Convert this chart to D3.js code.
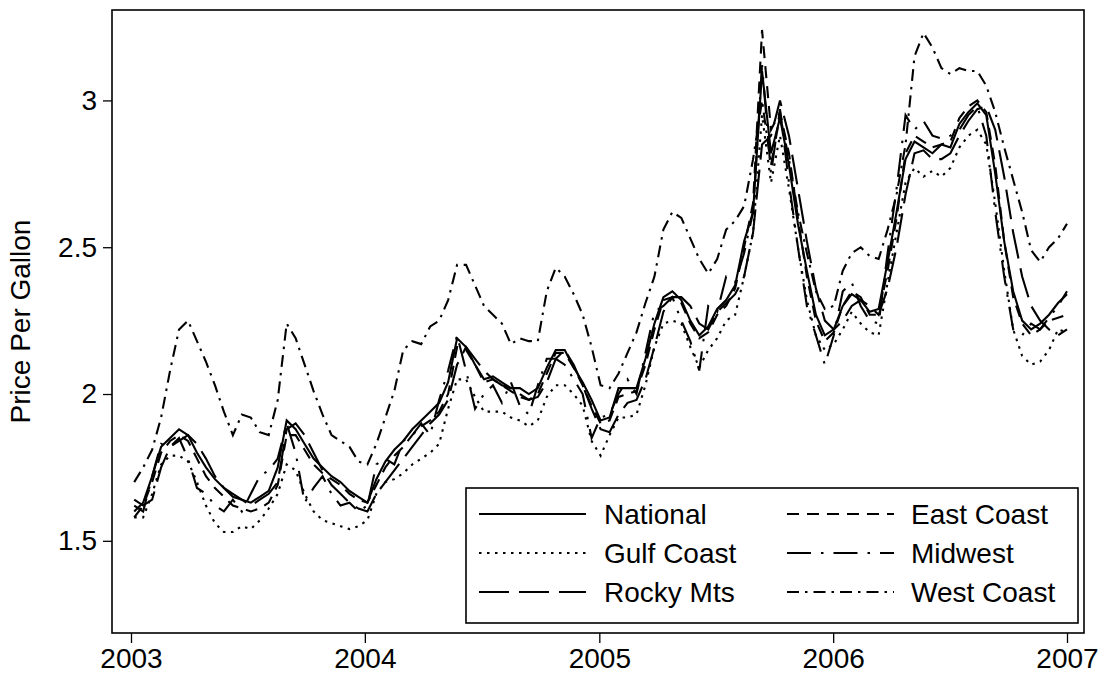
<!DOCTYPE html>
<html><head><meta charset="utf-8">
<script src="https://cdn.jsdelivr.net/npm/d3@7"></script>
<style>
body{margin:0;background:#fff}
text{font-family:"Liberation Sans",Arial,Helvetica,sans-serif;fill:#000}
</style>
</head><body>
<svg id="chart" width="1107" height="676"></svg>
<script>
const startDate = "2003-01-06";
const weekIndex = [0,2,4,6,8,10,12,14,16,18,20,22,24,26,28,30,32,34,36,38,40,42,44,46,48,50,
52,54,56,58,60,62,64,66,68,70,72,74,76,78,80,82,84,86,88,90,92,94,96,98,100,102,
104,106,108,110,112,114,116,118,120,122,124,126,128,130,132,134,136,138,140,142,144,146,148,150,152,154,
156,158,160,162,164,166,168,170,172,174,176,178,180,182,184,186,188,190,192,194,196,198,200,202,204,206,208];

const national = [1.60,1.63,1.72,1.82,1.85,1.88,1.86,1.80,1.75,1.71,1.68,1.65,1.64,1.63,1.65,1.67,1.75,1.91,1.88,1.83,1.78,1.75,1.72,1.70,1.67,1.65,
1.63,1.71,1.77,1.81,1.84,1.88,1.91,1.94,1.97,2.04,2.19,2.16,2.10,2.05,2.06,2.04,2.02,2.02,2.00,2.02,2.09,2.15,2.15,2.09,2.04,1.98,
1.91,1.92,2.02,2.02,2.02,2.12,2.24,2.33,2.35,2.32,2.25,2.20,2.23,2.29,2.32,2.37,2.52,2.62,3.10,2.82,2.94,2.78,2.58,2.42,2.27,2.20,
2.22,2.30,2.34,2.32,2.28,2.29,2.45,2.62,2.80,2.86,2.84,2.82,2.85,2.84,2.92,2.96,2.99,2.95,2.75,2.52,2.35,2.25,2.22,2.24,2.27,2.31,2.34];

const eastCoast = [1.58,1.62,1.70,1.80,1.84,1.86,1.84,1.78,1.72,1.68,1.65,1.62,1.61,1.60,1.61,1.63,1.69,1.86,1.86,1.81,1.76,1.73,1.71,1.69,1.66,1.64,
1.63,1.69,1.75,1.79,1.82,1.86,1.89,1.91,1.94,2.00,2.16,2.15,2.10,2.04,2.05,2.03,2.01,1.99,1.98,2.00,2.07,2.14,2.14,2.09,2.03,1.96,
1.90,1.91,1.99,2.00,2.01,2.10,2.22,2.32,2.33,2.31,2.24,2.19,2.21,2.27,2.30,2.36,2.50,2.65,3.24,2.90,2.96,2.82,2.60,2.40,2.25,2.18,
2.21,2.30,2.35,2.33,2.27,2.27,2.42,2.60,2.82,2.88,2.86,2.84,2.85,2.86,2.94,2.98,3.00,2.96,2.78,2.52,2.33,2.24,2.20,2.22,2.25,2.26,2.27];

const gulfCoast = [1.58,1.58,1.66,1.76,1.79,1.79,1.77,1.70,1.62,1.56,1.53,1.53,1.55,1.54,1.57,1.61,1.66,1.76,1.74,1.66,1.60,1.57,1.56,1.55,1.54,1.55,
1.57,1.66,1.70,1.71,1.73,1.76,1.78,1.80,1.83,1.95,2.05,2.05,1.99,1.94,1.94,1.94,1.92,1.91,1.89,1.91,1.99,2.03,2.03,2.00,1.96,1.84,
1.79,1.86,1.92,1.92,1.93,2.03,2.16,2.24,2.25,2.24,2.16,2.09,2.15,2.19,2.25,2.27,2.40,2.55,2.95,2.72,2.88,2.70,2.50,2.32,2.20,2.15,
2.17,2.22,2.28,2.24,2.21,2.20,2.38,2.55,2.72,2.77,2.74,2.76,2.74,2.77,2.84,2.88,2.90,2.85,2.65,2.42,2.22,2.13,2.10,2.11,2.15,2.22,2.21];

const midwest = [1.62,1.60,1.72,1.83,1.82,1.85,1.78,1.68,1.66,1.62,1.60,1.64,1.60,1.66,1.72,1.74,1.78,1.90,1.80,1.63,1.68,1.72,1.66,1.62,1.63,1.60,
1.62,1.76,1.78,1.76,1.84,1.86,1.90,1.86,1.98,2.08,2.20,2.08,1.95,2.00,2.03,1.97,2.04,1.96,1.93,2.03,2.12,2.12,2.10,2.05,2.00,1.85,
1.92,1.93,2.00,2.05,2.00,2.14,2.28,2.30,2.33,2.25,2.18,2.08,2.30,2.28,2.40,2.38,2.48,2.62,3.12,2.75,2.97,2.72,2.50,2.30,2.20,2.10,
2.20,2.35,2.38,2.30,2.25,2.24,2.48,2.70,2.95,2.90,2.93,2.88,2.87,2.88,2.90,2.95,2.98,2.88,2.62,2.40,2.22,2.20,2.24,2.22,2.26,2.30,2.35];

const rockyMts = [1.64,1.62,1.64,1.75,1.82,1.84,1.86,1.83,1.78,1.72,1.68,1.66,1.64,1.62,1.64,1.66,1.70,1.88,1.90,1.86,1.80,1.74,1.69,1.66,1.63,1.61,
1.60,1.66,1.70,1.74,1.78,1.82,1.86,1.90,1.93,1.98,2.10,2.16,2.12,2.08,2.05,2.03,2.02,2.00,1.98,1.99,2.04,2.12,2.15,2.10,2.03,1.95,
1.88,1.87,1.93,1.97,1.98,2.05,2.16,2.28,2.33,2.33,2.30,2.24,2.22,2.28,2.31,2.34,2.40,2.55,2.85,2.88,3.00,2.88,2.70,2.52,2.36,2.25,
2.22,2.25,2.30,2.32,2.30,2.27,2.36,2.50,2.68,2.82,2.83,2.80,2.80,2.82,2.88,2.93,2.97,2.98,2.90,2.74,2.55,2.40,2.30,2.25,2.22,2.20,2.22];

const westCoast = [1.70,1.75,1.81,1.92,2.08,2.22,2.25,2.18,2.11,2.03,1.94,1.86,1.93,1.92,1.87,1.86,1.98,2.24,2.19,2.10,2.01,1.93,1.86,1.84,1.82,1.77,
1.76,1.83,1.92,2.01,2.15,2.18,2.17,2.23,2.25,2.32,2.44,2.44,2.37,2.30,2.27,2.24,2.17,2.19,2.18,2.18,2.35,2.43,2.40,2.34,2.27,2.16,
2.03,2.02,2.07,2.14,2.21,2.31,2.40,2.56,2.62,2.60,2.53,2.46,2.41,2.46,2.56,2.59,2.64,2.80,3.00,2.78,2.95,2.80,2.62,2.48,2.35,2.29,
2.30,2.42,2.48,2.50,2.47,2.46,2.56,2.68,2.85,3.15,3.23,3.18,3.11,3.09,3.11,3.10,3.10,3.05,2.96,2.84,2.73,2.62,2.49,2.45,2.50,2.53,2.58];

const seriesNames = ["National","East Coast","Gulf Coast","Midwest","Rocky Mts","West Coast"];
const seriesValues = [national, eastCoast, gulfCoast, midwest, rockyMts, westCoast];
const yTickValues = [1.5, 2, 2.5, 3];
const xTickYears = [2003, 2004, 2005, 2006, 2007];
const yTitle = "Price Per Gallon";
const legendOrder = ["National","East Coast","Gulf Coast","Midwest","Rocky Mts","West Coast"];

// ---- styles ----
const dashes = {
  "National": null,
  "East Coast": "12,8",
  "Gulf Coast": "2.5,5.5",
  "Midwest": "24,10,2.5,10",
  "Rocky Mts": "30,10",
  "West Coast": "12,6,2.5,6"
};

const svg = d3.select("#chart");
const frame = {left:112, right:1084, top:10, bottom:633};

const x = d3.scaleUtc()
  .domain([new Date(Date.UTC(2003,0,1)), new Date(Date.UTC(2007,0,1))])
  .range([131, 1067]);
const y = d3.scaleLinear().domain([1.186, 3.308]).range([frame.bottom, frame.top]);

const t0 = new Date(startDate + "T00:00:00Z");
const dates = weekIndex.map(w => new Date(t0.getTime() + w * 7 * 86400000));

// frame
svg.append("rect")
  .attr("x", frame.left).attr("y", frame.top)
  .attr("width", frame.right - frame.left).attr("height", frame.bottom - frame.top)
  .attr("fill", "none").attr("stroke", "#000").attr("stroke-width", 1.6);

// y axis
const yAxis = d3.axisLeft(y).tickValues(yTickValues).tickSize(9).tickPadding(6)
  .tickFormat(d => String(d));
const gy = svg.append("g").attr("transform", `translate(${frame.left},0)`).call(yAxis);
gy.select(".domain").remove();
gy.selectAll("line").attr("stroke", "#000").attr("stroke-width", 1.3);
gy.selectAll("text").attr("font-size", 28).attr("font-family", "Liberation Sans, Arial, sans-serif");

// x axis
const xAxis = d3.axisBottom(x)
  .tickValues(xTickYears.map(yr => new Date(Date.UTC(yr,0,1))))
  .tickSize(10).tickPadding(5)
  .tickFormat(d3.utcFormat("%Y"));
const gx = svg.append("g").attr("transform", `translate(0,${frame.bottom})`).call(xAxis);
gx.select(".domain").remove();
gx.selectAll("line").attr("stroke", "#000").attr("stroke-width", 1.3);
gx.selectAll("text").attr("font-size", 28).attr("font-family", "Liberation Sans, Arial, sans-serif");

// y title
svg.append("text")
  .attr("transform", `translate(30,${(frame.top + frame.bottom)/2}) rotate(-90)`)
  .attr("text-anchor", "middle")
  .attr("font-size", 28)
  .text(yTitle);

// lines
const line = d3.line()
  .x((d, i) => x(dates[i]))
  .y(d => y(d));

seriesNames.forEach((name, k) => {
  svg.append("path")
    .datum(seriesValues[k])
    .attr("d", line)
    .attr("fill", "none")
    .attr("stroke", "#000")
    .attr("stroke-width", 2.1)
    .attr("stroke-linejoin", "miter")
    .attr("stroke-dasharray", dashes[name]);
});

// legend
const lg = svg.append("g");
lg.append("rect")
  .attr("x", 466).attr("y", 488).attr("width", 612).attr("height", 135)
  .attr("fill", "#fff").attr("stroke", "#000").attr("stroke-width", 1.6);
const colKeyX = [479, 787];
const keyLen = 107;
const colTextX = [604, 911];
const rowY = [514, 553, 592];
legendOrder.forEach((name, i) => {
  const c = i % 2, r = Math.floor(i / 2);
  lg.append("line")
    .attr("x1", colKeyX[c]).attr("x2", colKeyX[c] + keyLen)
    .attr("y1", rowY[r]).attr("y2", rowY[r])
    .attr("stroke", "#000").attr("stroke-width", 2.1)
    .attr("stroke-dasharray", dashes[name]);
  lg.append("text")
    .attr("x", colTextX[c]).attr("y", rowY[r])
    .attr("dy", "0.35em")
    .attr("font-size", 28)
    .text(name);
});
</script>
</body></html>
